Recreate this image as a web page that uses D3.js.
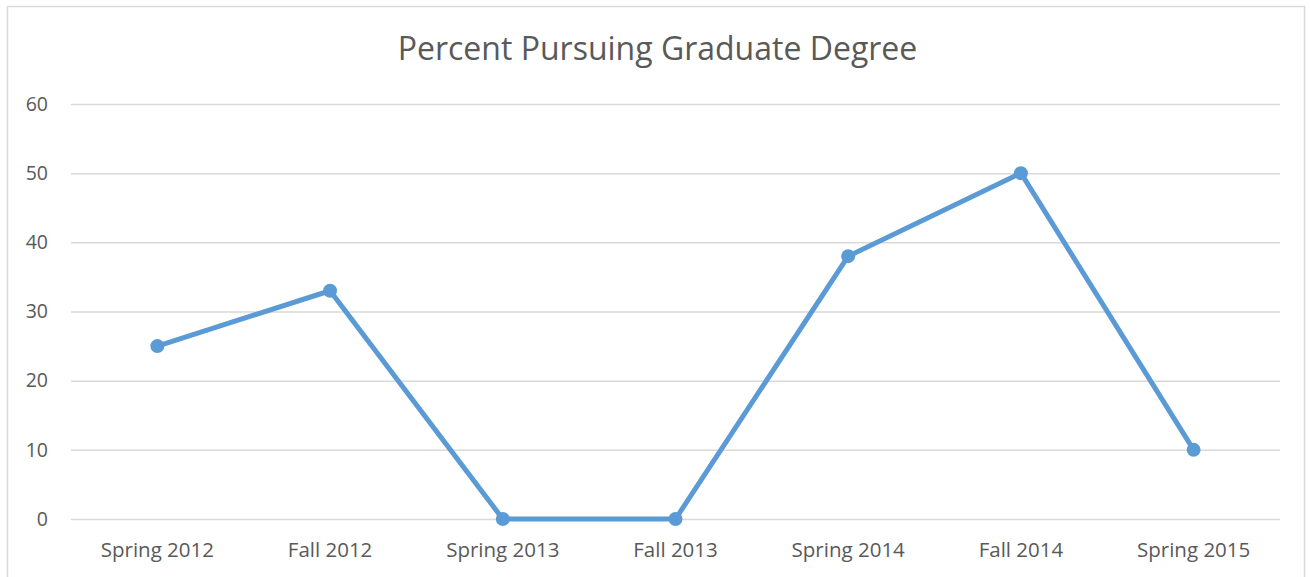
<!DOCTYPE html>
<html><head><meta charset="utf-8">
<script src="https://cdn.jsdelivr.net/npm/d3@7"></script>
<style>body{margin:0;background:#fff}svg{display:block}</style>
</head><body>
<svg id="c" width="1310" height="577"></svg>
<script>
const categories = ["Spring 2012","Fall 2012","Spring 2013","Fall 2013","Spring 2014","Fall 2014","Spring 2015"];
const values = [25, 33, 0, 0, 38, 50, 10];
const yTicks = [0, 10, 20, 30, 40, 50, 60];
const title = "Percent Pursuing Graduate Degree";

const svg = d3.select("#c");
const font = "'Open Sans', sans-serif";
svg.append("rect").attr("x",7.5).attr("y",6.5).attr("width",1297).attr("height",600)
  .attr("fill","#fff").attr("stroke","#d9d9d9").attr("stroke-width",1.5);

const x = d3.scaleBand().domain(categories).range([71,1280]);
const y = d3.scaleLinear().domain([0,60]).range([519,104]);

svg.append("text").attr("x",657.5).attr("y",59.5).attr("text-anchor","middle")
  .attr("font-family",font).attr("font-size",32).attr("fill","#595959").text(title);

const gy = svg.append("g").attr("transform","translate(71,0)")
  .call(d3.axisLeft(y).tickValues(yTicks).tickSize(-1209).tickPadding(23));
gy.select(".domain").remove();
gy.selectAll(".tick line").attr("stroke","#d9d9d9").attr("stroke-width",1.5);
gy.selectAll(".tick text").attr("font-family",font).attr("font-size",19.5).attr("fill","#595959");

const gx = svg.append("g").attr("transform","translate(0,519)")
  .call(d3.axisBottom(x).tickSize(0).tickPadding(22));
gx.select(".domain").remove();
gx.selectAll(".tick text").attr("font-family",font).attr("font-size",20.5).attr("fill","#595959")
  .attr("dy",null).attr("y",38);

const cx = d => x(d) + x.bandwidth()/2;
const line = d3.line().x((d,i)=>cx(categories[i])).y(d=>y(d));
svg.append("path").datum(values).attr("d",line).attr("fill","none")
  .attr("stroke","#5b9bd5").attr("stroke-width",5).attr("stroke-linejoin","round");
svg.selectAll("circle.pt").data(values).join("circle").attr("class","pt")
  .attr("cx",(d,i)=>cx(categories[i])).attr("cy",d=>y(d)).attr("r",7).attr("fill","#5b9bd5");
</script>
</body></html>
